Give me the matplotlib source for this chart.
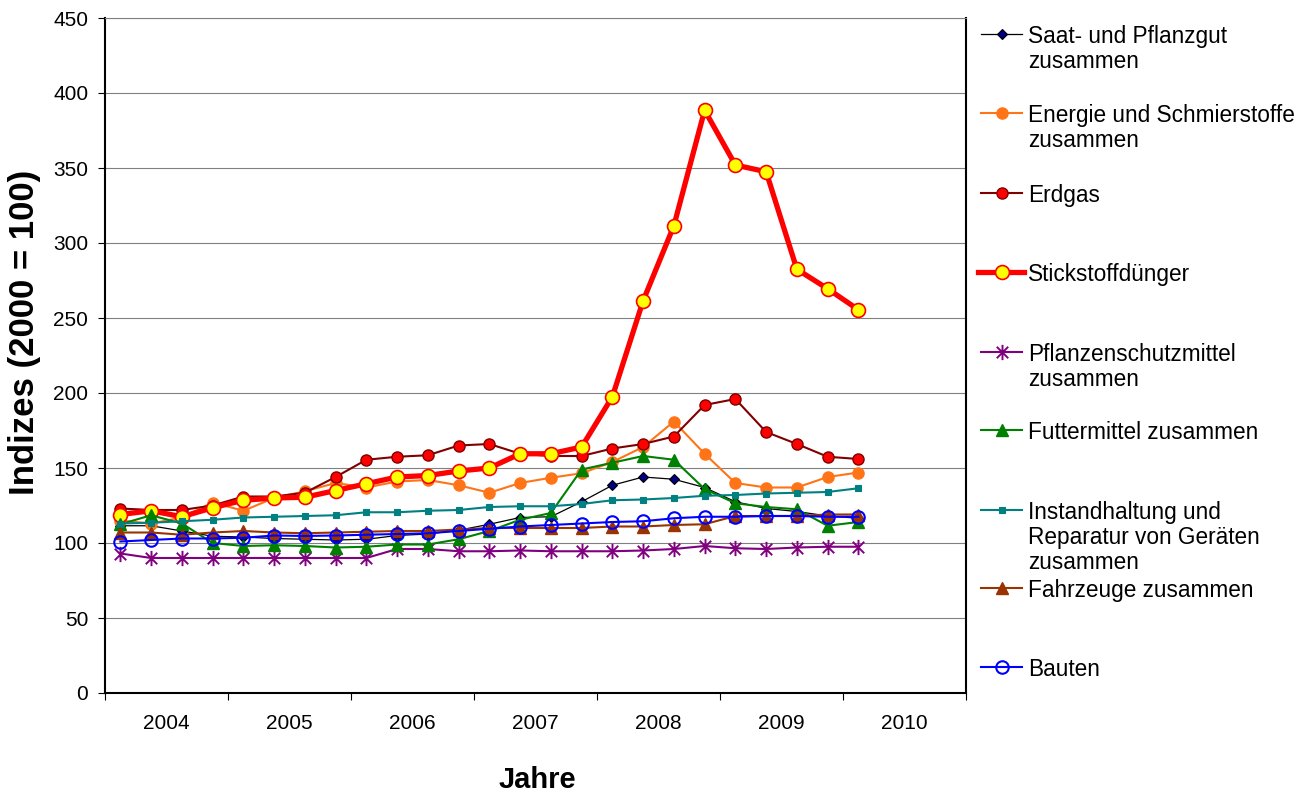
import numpy as np
import matplotlib
matplotlib.use("Agg")
import matplotlib.pyplot as plt
from matplotlib.lines import Line2D
from matplotlib.path import Path

plt.rcParams['font.family'] = ['Liberation Sans', 'DejaVu Sans']

# quarterly index values, 2004 Q1 .. 2010 Q1 (2000 = 100)
years = ['2004', '2005', '2006', '2007', '2008', '2009', '2010']

saat = [111.5, 111.5, 108, 104.5, 104, 103, 102.5, 102, 102.5, 105, 106, 108.5, 112.5,
        117, 117.5, 127.5, 138.5, 144, 142.5, 137, 127.5, 123, 121, 118, 116.5]
energie = [115, 113, 117, 127, 121.5, 130, 134.5, 140, 137, 141, 142, 138.5, 133.5,
           140, 143.5, 146.5, 154, 164, 181, 159.5, 140, 137, 137, 144, 147]
erdgas = [123, 122, 122, 125, 131, 131, 133.5, 144, 155.5, 157.5, 158.5, 165, 166,
          159.5, 158, 158, 163, 166, 171, 192, 196, 174, 166, 157.5, 156]
stickstoff = [119, 121.5, 117.5, 123.5, 128.5, 130, 130.5, 135, 139.5, 144, 145, 148, 150,
              159.5, 159.5, 164, 197.5, 261.5, 311.5, 388.5, 352, 347.5, 282.5, 269.5, 255.5]
pflanzenschutz = [93, 90, 90, 90, 90, 90, 90, 90, 90, 96, 96, 94.5, 94.5,
                  95, 94.5, 94.5, 94.5, 95, 96, 98, 96.5, 96, 97, 97.5, 97.5]
futter = [112.5, 118.5, 113, 100, 98, 98.5, 98, 97, 97.5, 99, 99, 102.5, 108,
          115.5, 120, 149, 153.5, 158, 155.5, 136, 126.5, 124, 122.5, 111.5, 114]
instand = [113, 113.5, 114.5, 115.5, 117, 117.5, 118, 118.5, 120.5, 120.5, 121.5, 122, 124,
           124.5, 124.5, 126, 128.5, 129, 130, 131.5, 132, 133, 133.5, 134, 136.5]
fahrzeuge = [107, 107, 105.5, 107, 108, 107, 106.5, 107, 107.5, 108, 108, 109, 110,
             110, 110, 110, 111, 111, 112, 112.5, 118, 118, 118, 119, 119]
bauten = [101, 102, 103, 103, 103.5, 105, 104.7, 105, 105.5, 106, 106.5, 108, 109.5,
          111, 112, 113, 114, 114.5, 116.5, 117.5, 117.5, 118, 118, 117.5, 117.5]

labels = ["Saat- und Pflanzgut\nzusammen",
          "Energie und Schmierstoffe\nzusammen",
          "Erdgas",
          "Stickstoffdünger",
          "Pflanzenschutzmittel\nzusammen",
          "Futtermittel zusammen",
          "Instandhaltung und\nReparatur von Geräten\nzusammen",
          "Fahrzeuge zusammen",
          "Bauten"]

# Excel-like star marker: vertical stroke plus an X
star = Path([(0, -1), (0, 1), (-0.75, -0.75), (0.75, 0.75), (-0.75, 0.75), (0.75, -0.75)],
            [Path.MOVETO, Path.LINETO] * 3)

styles = [
    dict(color='black', lw=0.9, marker='D', ms=5, mfc='#000080', mec='black', mew=0.8),
    dict(color='#FF7416', lw=1.5, marker='o', ms=8, mfc='#FF7416', mec='#FF7416', mew=1),
    dict(color='#800000', lw=1.5, marker='o', ms=8, mfc='#FF0000', mec='#800000', mew=1),
    dict(color='#FF0000', lw=3.8, marker='o', ms=10, mfc='#FFFF00', mec='#FF0000', mew=1.2),
    dict(color='#800080', lw=1.5, marker=star, ms=11, mfc='none', mec='#800080', mew=1.4),
    dict(color='#008000', lw=1.5, marker='^', ms=8.5, mfc='#008000', mec='#008000', mew=1),
    dict(color='#008080', lw=1.5, marker='s', ms=4.2, mfc='#008080', mec='#008080', mew=0.8),
    dict(color='#993300', lw=1.5, marker='^', ms=8.5, mfc='#993300', mec='#993300', mew=1),
    dict(color='#0000FF', lw=1.5, marker='o', ms=9, mfc='none', mec='#0000FF', mew=1.5),
]

series = [saat, energie, erdgas, stickstoff, pflanzenschutz, futter, instand, fahrzeuge, bauten]

W, H = 1308, 794
fig = plt.figure(figsize=(W / 100, H / 100), dpi=100)
ax = fig.add_axes([105 / W, 1 - 693 / H, (966 - 105) / W, (693 - 18) / H])

x = np.arange(len(saat))
for i, (vals, st) in enumerate(zip(series, styles)):
    ax.plot(x, vals, zorder=3 + i, **st)

ax.set_ylim(0, 450)
ax.set_xlim(-0.5, 4 * len(years) - 0.5)
ax.set_yticks(np.arange(0, 451, 50))
ax.grid(axis='y', color='#808080', lw=0.8, zorder=0)
ax.set_axisbelow(True)

# year boundaries as major ticks, year names centred on minor ticks
ax.set_xticks(np.arange(-0.5, 4 * len(years), 4))
ax.set_xticklabels([])
ax.set_xticks(np.arange(1.5, 4 * len(years), 4), minor=True)
ax.set_xticklabels(years, minor=True)
ax.tick_params(axis='x', which='major', length=5, width=0.8, direction='out')
ax.tick_params(axis='x', which='minor', length=0, pad=15, labelsize=15)
ax.tick_params(axis='y', length=5, width=0.8, direction='out', pad=7, labelsize=15)

for s in ['left', 'bottom', 'right']:
    ax.spines[s].set_color('black')
    ax.spines[s].set_linewidth(1.5)
ax.spines['top'].set_color('#808080')
ax.spines['top'].set_linewidth(0.8)

fig.text(25 / W, 1 - 332 / H, "Indizes (2000 = 100)", rotation=90, ha='center', va='center',
         fontsize=25, fontweight='bold')
fig.text(537 / W, 1 - 780 / H, "Jahre", ha='center', va='center', fontsize=21, fontweight='bold')

# legend on the right, evenly spaced rows, wrapped lines 26 px apart
row_y = [34, 113, 193, 272, 352, 430, 510, 588, 667]
for ly, lab, st in zip(row_y, labels, styles):
    yy = 1 - ly / H
    x0, x1 = (981, 1022) if st['lw'] < 3 else (978, 1024)
    h = Line2D([x0 / W, 1002 / W, x1 / W], [yy, yy, yy], markevery=[1],
               transform=fig.transFigure, **st)
    fig.add_artist(h)
    for k, part in enumerate(lab.split("\n")):
        fig.text(1028 / W, 1 - (ly + 25 * k) / H, part, ha='left', va='center_baseline',
                 fontsize=16.3)

fig.savefig("out.png", dpi=100)
